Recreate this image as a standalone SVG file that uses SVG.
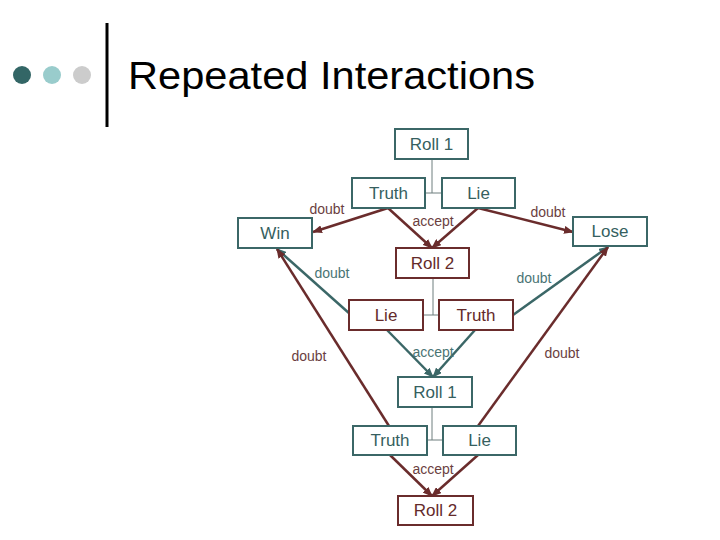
<svg xmlns="http://www.w3.org/2000/svg" width="720" height="540" viewBox="0 0 720 540">
<defs>
<marker id="ar" markerUnits="userSpaceOnUse" markerWidth="10" markerHeight="8" refX="9" refY="4" orient="auto"><path d="M0,0 L10,4 L0,8 z" fill="#6a2c2c"/></marker>
<marker id="at" markerUnits="userSpaceOnUse" markerWidth="10" markerHeight="8" refX="9" refY="4" orient="auto"><path d="M0,0 L10,4 L0,8 z" fill="#3b6767"/></marker>
<style>
.bt{fill:#fff;stroke:#3b6767;stroke-width:2}
.br{fill:#fff;stroke:#6a2c2c;stroke-width:2}
.tt{font-family:"Liberation Sans",Arial,sans-serif;font-size:17px;fill:#365f5f;text-anchor:middle}
.tr{font-family:"Liberation Sans",Arial,sans-serif;font-size:17px;fill:#642a2a;text-anchor:middle}
.lr{font-family:"Liberation Sans",Arial,sans-serif;font-size:14px;fill:#6b3f3f;text-anchor:middle}
.lt{font-family:"Liberation Sans",Arial,sans-serif;font-size:14px;fill:#4a7474;text-anchor:middle}
.er{stroke:#6a2c2c;stroke-width:2.5;fill:none;marker-end:url(#ar)}
.et{stroke:#3b6767;stroke-width:2.5;fill:none;marker-end:url(#at)}
.tree{stroke:#6f7f7f;stroke-width:1;fill:none}
</style>
</defs>
<rect width="720" height="540" fill="#fff"/>
<g id="title">
<circle cx="22" cy="75" r="9" fill="#336666"/>
<circle cx="52" cy="75" r="9" fill="#99cccc"/>
<circle cx="82" cy="75" r="9" fill="#cccccc"/>
<line x1="107" y1="23" x2="107" y2="127" stroke="#000" stroke-width="3"/>
<text x="128" y="89" font-family="Liberation Sans,Arial,sans-serif" font-size="38" textLength="407" lengthAdjust="spacingAndGlyphs" fill="#000">Repeated Interactions</text>
</g>
<g id="connectors">
<path class="tree" d="M432,159 V193 M425,193 H442"/>
<path class="tree" d="M433,278 V315 M423,315 H439"/>
<path class="tree" d="M432,407 V440 M427,440 H443"/>
<line class="er" x1="388" y1="208" x2="313" y2="232"/>
<line class="er" x1="388" y1="208" x2="432" y2="248"/>
<line class="er" x1="478" y1="208" x2="432" y2="248"/>
<line class="er" x1="478" y1="208" x2="573" y2="232"/>
<line class="et" x1="350" y1="314" x2="277" y2="249"/>
<line class="et" x1="513" y1="315" x2="608" y2="247"/>
<line class="et" x1="387" y1="330" x2="433" y2="377"/>
<line class="et" x1="475" y1="330" x2="433" y2="377"/>
<line class="er" x1="389" y1="426" x2="277" y2="249"/>
<line class="er" x1="478" y1="426" x2="608" y2="247"/>
<line class="er" x1="390" y1="455" x2="432" y2="496"/>
<line class="er" x1="478" y1="455" x2="432" y2="496"/>
<text class="lr" x="327" y="214">doubt</text>
<text class="lr" x="433" y="226">accept</text>
<text class="lr" x="548" y="217">doubt</text>
<text class="lt" x="332" y="278">doubt</text>
<text class="lt" x="534" y="283">doubt</text>
<text class="lt" x="433" y="357">accept</text>
<text class="lr" x="309" y="361">doubt</text>
<text class="lr" x="562" y="358">doubt</text>
<text class="lr" x="433" y="474">accept</text>
</g>
<g id="roll1a"><rect class="bt" x="395" y="129" width="73" height="30"/><text class="tt" x="431.5" y="150">Roll 1</text></g>
<g id="truth1"><rect class="bt" x="352" y="178" width="73" height="30"/><text class="tt" x="388.5" y="199">Truth</text></g>
<g id="lie1"><rect class="bt" x="442" y="178" width="73" height="30"/><text class="tt" x="478.5" y="199">Lie</text></g>
<g id="win"><rect class="bt" x="238" y="218" width="74" height="30"/><text class="tt" x="275" y="239">Win</text></g>
<g id="lose"><rect class="bt" x="573" y="217" width="74" height="29"/><text class="tt" x="610" y="237">Lose</text></g>
<g id="roll2a"><rect class="br" x="396" y="248" width="73" height="30"/><text class="tr" x="432.5" y="269">Roll 2</text></g>
<g id="lie2"><rect class="br" x="349" y="300" width="74" height="30"/><text class="tr" x="386" y="321">Lie</text></g>
<g id="truth2"><rect class="br" x="439" y="300" width="74" height="30"/><text class="tr" x="476" y="321">Truth</text></g>
<g id="roll1b"><rect class="bt" x="398" y="377" width="74" height="30"/><text class="tt" x="435" y="398">Roll 1</text></g>
<g id="truth3"><rect class="bt" x="353" y="426" width="74" height="29"/><text class="tt" x="390" y="446">Truth</text></g>
<g id="lie3"><rect class="bt" x="443" y="426" width="73" height="29"/><text class="tt" x="479.5" y="446">Lie</text></g>
<g id="roll2b"><rect class="br" x="398" y="496" width="75" height="29"/><text class="tr" x="435.5" y="516">Roll 2</text></g>
</svg>
